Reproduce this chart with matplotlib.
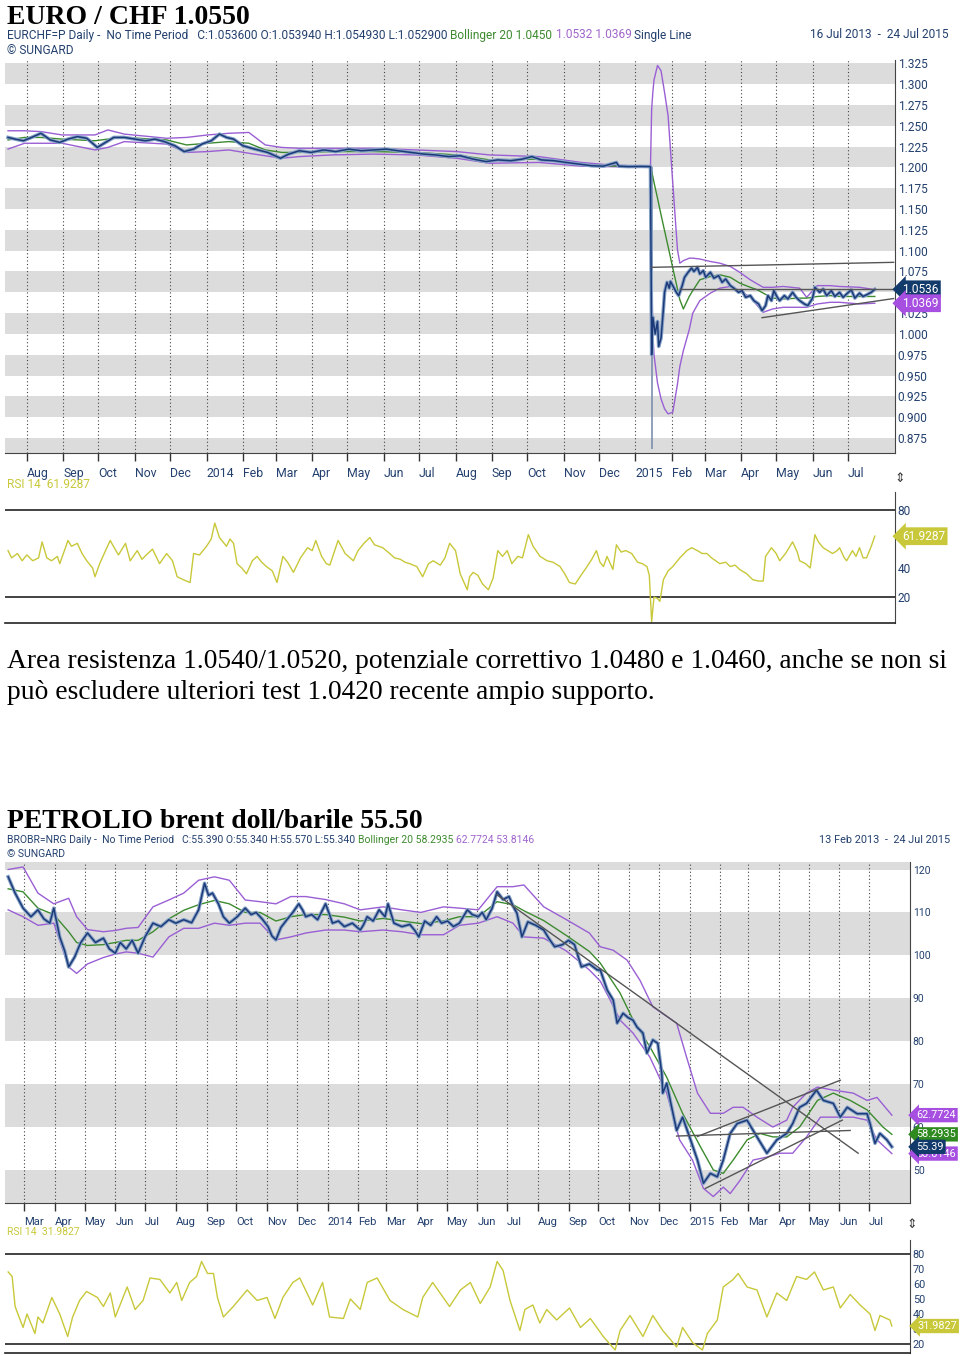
import matplotlib
matplotlib.use("Agg")
import matplotlib.pyplot as plt
import matplotlib.dates as mdates
from matplotlib.ticker import FuncFormatter
import pandas as pd

# ---------------- EUR/CHF, days counted from 16 Jul 2013 ----------------
eur_start = "2013-07-16"
eur_days = [0, 6, 13, 20, 28, 36, 44, 51, 59, 67,
            76, 83, 90, 99, 108, 117, 125, 133, 142, 150,
            158, 165, 173, 180, 186, 192, 200, 210, 221, 232,
            239, 248, 258, 269, 279, 290, 301, 311, 322, 332,
            343, 354, 364, 375, 385, 396, 407, 417, 428, 438,
            446, 454, 465, 475, 486, 497, 507, 518, 520, 528,
            539, 546, 547,
            548, 549, 551, 553, 554, 556, 558, 559, 561, 563,
            564, 566, 569, 571, 574, 576, 579, 582, 584, 587,
            589, 592, 594, 598, 601, 605, 608, 611, 615, 618,
            622, 625, 628, 632, 635, 639, 642, 645, 647, 650,
            652, 655, 657, 661, 664, 668, 671, 674, 678, 681,
            685, 687, 691, 694, 697, 701, 704, 708, 711, 714,
            718, 721, 725, 728, 731, 735, 738]
eur_close = [1.236, 1.234, 1.232, 1.236, 1.241, 1.233, 1.230, 1.234, 1.237, 1.235,
             1.224, 1.230, 1.236, 1.236, 1.234, 1.232, 1.234, 1.231, 1.226, 1.219,
             1.222, 1.228, 1.232, 1.240, 1.236, 1.234, 1.226, 1.222, 1.218, 1.211,
             1.216, 1.220, 1.218, 1.221, 1.219, 1.222, 1.220, 1.221, 1.222, 1.220,
             1.218, 1.216, 1.215, 1.213, 1.214, 1.210, 1.207, 1.209, 1.208, 1.210,
             1.213, 1.209, 1.208, 1.206, 1.204, 1.202, 1.2015, 1.206, 1.2015, 1.201,
             1.2012, 1.2010, 1.2010,
             0.975, 1.020, 1.000, 1.015, 0.985, 0.995, 1.030, 1.050, 1.062, 1.055,
             1.063, 1.058, 1.050, 1.046, 1.058, 1.068, 1.074, 1.079, 1.075, 1.080,
             1.072, 1.076, 1.068, 1.074, 1.067, 1.070, 1.062, 1.066, 1.058, 1.055,
             1.050, 1.052, 1.044, 1.046, 1.040, 1.036, 1.028, 1.034, 1.046, 1.040,
             1.052, 1.044, 1.040, 1.046, 1.042, 1.050, 1.044, 1.040, 1.036, 1.034,
             1.043, 1.056, 1.050, 1.054, 1.046, 1.052, 1.045, 1.050, 1.044, 1.048,
             1.053, 1.043, 1.049, 1.045, 1.047, 1.050, 1.0536]
eur_crash_day = 548
eur_crash_low = 0.862
eur_crash_high = 1.201

eur_band_days = [0, 14, 28, 46, 74, 85, 99, 135, 152, 170,
                 188, 205, 219, 233, 248, 276, 311, 347, 382, 410,
                 452, 488, 516, 547,
                 548, 549, 550, 553, 556, 559, 562, 566, 570, 572,
                 575, 580, 583, 589, 598, 606, 615, 623, 632, 638,
                 643, 651, 660, 674, 680, 689, 700, 708, 725, 738]
eur_upper = [1.244, 1.244, 1.243, 1.239, 1.239, 1.245, 1.240, 1.235, 1.236, 1.239,
             1.241, 1.242, 1.227, 1.224, 1.223, 1.223, 1.223, 1.221, 1.219, 1.215,
             1.213, 1.206, 1.2025, 1.2016,
             1.270, 1.290, 1.305, 1.3225, 1.316, 1.290, 1.262, 1.181, 1.101, 1.085,
             1.088, 1.091, 1.091, 1.090, 1.087, 1.085, 1.081, 1.074, 1.065, 1.060,
             1.056, 1.056, 1.057, 1.055, 1.044, 1.058, 1.058, 1.057, 1.056, 1.0532]
eur_mid = [1.233, 1.236, 1.236, 1.234, 1.232, 1.234, 1.236, 1.233, 1.227, 1.229,
           1.231, 1.229, 1.221, 1.218, 1.218, 1.219, 1.219, 1.218, 1.215, 1.209,
           1.210, 1.204, 1.2015, 1.201,
           1.195, 1.189, 1.182, 1.163, 1.143, 1.124, 1.105, 1.079, 1.054, 1.041,
           1.030, 1.045, 1.052, 1.065, 1.069, 1.071, 1.068, 1.061, 1.056, 1.053,
           1.049, 1.043, 1.042, 1.043, 1.043, 1.045, 1.046, 1.045, 1.045, 1.045]
eur_lower = [1.222, 1.229, 1.229, 1.229, 1.221, 1.224, 1.231, 1.228, 1.218, 1.219,
             1.221, 1.217, 1.214, 1.211, 1.213, 1.215, 1.216, 1.215, 1.211, 1.205,
             1.206, 1.2015, 1.2008, 1.2006,
             1.080, 1.001, 0.975, 0.941, 0.922, 0.910, 0.904, 0.906, 0.940, 0.961,
             0.980, 1.005, 1.025, 1.040, 1.049, 1.055, 1.057, 1.052, 1.044, 1.034,
             1.026, 1.030, 1.032, 1.032, 1.032, 1.036, 1.038, 1.038, 1.036, 1.0369]

# trend lines: (day0, value0, day1, value1)
eur_lines = [(548, 1.080, 754, 1.086), (572, 1.0536, 754, 1.0536), (642, 1.0195, 754, 1.0425)]
eur_ticks = [1.325, 1.300, 1.275, 1.250, 1.225, 1.200, 1.175, 1.150, 1.125, 1.100,
             1.075, 1.050, 1.025, 1.000, 0.975, 0.950, 0.925, 0.900, 0.875]
eur_tags = [("1.0536", 1.0536, "#123a6b"), ("1.0369", 1.0369, "#a64fe0")]

eur_rsi_days = [0, 3, 8, 12, 16, 21, 26, 29, 33, 37,
                42, 44, 48, 51, 54, 59, 63, 67, 72, 74,
                78, 83, 87, 89, 94, 100, 104, 110, 114, 119,
                123, 129, 135, 140, 144, 149, 155, 158, 163, 169,
                173, 176, 180, 186, 189, 192, 195, 199, 203, 208,
                212, 216, 220, 225, 229, 234, 238, 243, 249, 255,
                259, 262, 267, 271, 274, 281, 287, 294, 298, 303,
                308, 312, 319, 325, 329, 334, 338, 342, 348, 353,
                358, 362, 368, 372, 376, 381, 385, 391, 393, 396,
                400, 404, 409, 413, 417, 421, 425, 429, 434, 438,
                443, 447, 453, 459, 464, 470, 474, 478, 483, 487,
                493, 497, 501, 504, 507, 510, 515, 518, 522, 526,
                531, 536, 540, 544, 546, 548, 550, 553, 555, 558,
                562, 566, 572, 578, 582, 587, 591, 595, 599, 606,
                611, 615, 619, 623, 629, 634, 639, 643, 645, 650,
                654, 657, 662, 668, 672, 674, 679, 683, 687, 690,
                694, 698, 702, 706, 708, 712, 714, 719, 722, 725,
                728, 731, 735, 738]
eur_rsi = [52, 47, 50, 45, 49, 45, 47, 58, 47, 45,
           48, 43, 52, 59, 55, 57, 50, 45, 40, 34,
           43, 52, 59, 56, 49, 57, 45, 52, 46, 50,
           53, 43, 50, 45, 34, 32, 30, 50, 49, 55,
           60, 71, 61, 55, 60, 57, 43, 40, 36, 45,
           48, 44, 41, 38, 30, 48, 44, 37, 47, 54,
           52, 59, 48, 43, 42, 59, 50, 45, 52, 57,
           61, 56, 54, 50, 47, 46, 44, 43, 41, 34,
           43, 45, 42, 47, 57, 52, 36, 25, 34, 37,
           35, 29, 25, 33, 52, 48, 52, 43, 48, 47,
           63, 55, 48, 45, 44, 41, 36, 30, 29, 34,
           41, 46, 52, 44, 41, 48, 39, 56, 51, 52,
           50, 44, 43, 41, 35, 3, 20, 19, 17, 32,
           38, 41, 47, 52, 54, 52, 50, 50, 47, 43,
           44, 41, 42, 39, 36, 32, 31, 31, 48, 54,
           50, 45, 50, 58, 51, 45, 43, 40, 63, 58,
           54, 52, 50, 52, 54, 47, 45, 52, 48, 54,
           47, 47, 55, 62]
eur_rsi_last = "61.9287"

# ---------------- Brent, days counted from 13 Feb 2013 ----------------
oil_start = "2013-02-13"
oil_days = [0, 7, 15, 23, 30, 36, 42, 46, 52, 57,
            61, 67, 73, 80, 88, 96, 102, 108, 113, 119,
            125, 131, 138, 146, 154, 162, 169, 177, 185, 192,
            198, 202, 206, 212, 217, 223, 231, 239, 245, 250,
            256, 262, 266, 270, 275, 281, 287, 293, 297, 300,
            306, 312, 320, 324, 327, 333, 339, 347, 355, 358,
            362, 368, 374, 380, 383, 389, 397, 405, 410, 414,
            420, 426, 432, 437, 443, 449, 455, 463, 468, 474,
            478, 482, 488, 493, 499, 505, 509, 513, 518, 524,
            532, 540, 545, 551, 559, 565, 571, 578, 586, 594,
            597, 604, 610, 614, 620, 625, 630, 634, 640, 644,
            650, 655, 659, 660, 664, 669, 674, 680, 687, 695,
            701, 708, 715, 721, 728, 735, 745, 755, 765, 775,
            785, 791, 798, 805, 815, 822, 832, 839, 846, 856,
            866, 869, 874, 879, 886, 891]
oil_close = [118.3, 114.5, 111, 109, 110.6, 108.5, 107.5, 111, 104.3, 101,
             97.3, 99.6, 102.9, 105.2, 103, 104, 101.5, 100.5, 103, 101.5,
             103.5, 100.5, 104.3, 107.5, 106.7, 108.3, 107.5, 108.3, 107.6, 110.6,
             116.8, 114, 114.5, 112, 109, 107.5, 109, 111, 109.5, 110,
             108.5, 106.7, 104.5, 103.6, 106.5, 108.3, 110, 112, 110.5, 109,
             109.5, 108.3, 112, 109.5, 107.5, 108, 106.7, 107.5, 105.9, 107,
             109, 108, 110.6, 109, 112, 107.5, 106.7, 107.2, 105.8, 104.3,
             108, 107, 109, 107.5, 108, 106.7, 107.5, 110.6, 109.5, 109,
             110, 108.3, 111, 114.8, 113, 113.7, 111.5, 109.8, 104.3, 107.8,
             107, 105.9, 104, 102, 102.5, 103.5, 102.5, 97.3, 98, 96.6,
             96.6, 91.9, 89.6, 84.2, 86.5, 85.5, 84.9, 83.3, 81.9, 77.2,
             80.3, 79.5, 72.5, 67.9, 70.2, 64.6, 59.2, 62.3, 57.7, 52.3,
             46.9, 49.2, 48.4, 52.3, 58.5, 60.8, 61.6, 57.7, 53.9, 57.0,
             58.5, 60.8, 64.6, 65.5, 68.6, 66.2, 65.5, 62.3, 64.6, 63.1,
             63.1, 60.8, 56.2, 58.5, 57.0, 55.39]

oil_up_days = [0, 15, 30, 46, 61, 69, 80, 96, 108, 119,
               131, 146, 162, 177, 192, 208, 223, 239, 254, 270,
               285, 300, 320, 339, 355, 378, 397, 416, 439, 455,
               474, 493, 509, 520, 540, 563, 586,
               597, 610, 624, 637, 650, 674, 684, 695, 708, 721,
               731, 741, 755, 771, 785, 791, 805, 816, 832, 852,
               866, 876, 891]
oil_upper = [120, 120.6, 114.5, 112, 113.3, 109, 106, 105.5, 105.8, 106.3,
             106.5, 111.3, 112.9, 114.5, 117.5, 118.3, 117.5, 112.9, 112.5, 112,
             113.7, 113.7, 113, 112, 110.6, 111.3, 110.6, 110, 111.3, 111,
             110.6, 116, 116, 116.4, 111.3, 108.3, 105.2,
             102, 101.2, 98.9, 94.2, 88, 84.2, 76.3, 67.9, 63.2, 63.2,
             64.6, 64.6, 62.3, 60, 61.6, 64.6, 67.9, 69.3, 68.6, 67.9,
             66.2, 66.9, 62.77]
oil_lo_days = [0, 15, 30, 46, 61, 69, 80, 96, 108, 119,
               131, 146, 162, 177, 192, 208, 223, 239, 254, 270,
               285, 300, 320, 339, 355, 378, 397, 416, 439, 455,
               474, 493, 509, 520, 540, 563, 586,
               597, 607, 617, 630, 647, 664, 677, 690, 701, 711,
               721, 728, 738, 751, 765, 778, 791, 805, 819, 832,
               852, 866, 876, 891]
oil_lower = [110.6, 109, 107, 107.5, 97.3, 95.8, 98, 99.5, 100.3, 100.8,
             100.5, 99.6, 104.3, 106.3, 106.3, 107.5, 107, 107.5, 107.5, 103.6,
             104.3, 105.2, 105.9, 105.9, 105.5, 105.9, 105.5, 104.8, 104.8, 107,
             107.5, 109, 107.5, 104.3, 104, 101, 96.6,
             94, 89.6, 84.9, 81.9, 76.3, 67.9, 57, 52.3, 45.7, 43.8,
             46, 44.5, 47.6, 52.3, 53, 53.9, 53.9, 57.7, 62.3, 62.3,
             62.3, 61.6, 57, 53.81]
oil_mid_days = [0, 15, 30, 46, 61, 69, 80, 96, 108, 119,
                131, 146, 162, 177, 192, 208, 223, 239, 254, 270,
                285, 300, 320, 339, 355, 378, 397, 416, 439, 455,
                474, 493, 509, 520, 540, 563, 586,
                597, 617, 630, 647, 664, 680, 698, 711, 721, 731,
                745, 758, 771, 785, 798, 816, 832, 849, 866, 882, 891]
oil_mid = [115.5, 114.8, 111, 109.5, 105.5, 103, 102.3, 102.5, 103, 103.5,
           103.5, 105.5, 108.5, 110.5, 111.8, 112.8, 112, 110, 110, 108,
           109, 109.5, 109.5, 108.9, 108, 108.6, 108, 107.4, 108, 109,
           109, 112.5, 111.8, 110.4, 108.1, 104.6, 100.9,
           98.2, 91.2, 85, 78.7, 71.6, 63.2, 55.4, 50, 49.2, 52.3,
           57, 58.5, 57.7, 57.7, 60, 66.2, 67.9, 66.2, 64, 60, 58.29]

oil_lines = [(493, 114.1, 857, 53.9), (674, 57.9, 849, 59.2),
             (695, 57.8, 839, 70.9), (703, 45.7, 841, 61.6)]
oil_ticks = [120, 110, 100, 90, 80, 70, 60, 50]
oil_tags = [("62.7724", 62.7724, "#a64fe0"), ("58.2935", 58.2935, "#2f8a1f"),
            ("53.8146", 53.8146, "#a64fe0"), ("55.39", 55.39, "#123a6b")]

oil_rsi_days = [0, 4, 7, 15, 19, 27, 30, 35, 44, 52,
                60, 65, 72, 79, 90, 96, 103, 108, 120, 128,
                136, 143, 153, 163, 170, 175, 183, 190, 195, 201,
                207, 211, 217, 227, 241, 251, 261, 269, 277, 287,
                294, 307, 317, 324, 338, 345, 355, 362, 372, 385,
                398, 413, 418, 428, 445, 456, 466, 476, 486, 493,
                499, 506, 516, 521, 529, 536, 543, 553, 566, 577,
                587, 600, 612, 617, 627, 640, 650, 660, 674, 680,
                690, 700, 705, 715, 721, 731, 736, 745, 755, 765,
                775, 785, 795, 805, 813, 822, 832, 839, 849, 859,
                869, 874, 879, 889, 891]
oil_rsi = [68, 65, 45, 31, 40, 27, 38, 34, 51, 40,
           25, 38, 49, 55, 51, 45, 54, 38, 58, 43,
           49, 64, 63, 54, 61, 49, 61, 65, 75, 67,
           67, 51, 38, 45, 56, 49, 51, 37, 51, 61,
           64, 46, 61, 38, 37, 50, 43, 61, 64, 49,
           43, 38, 51, 61, 45, 56, 61, 47, 58, 75,
           69, 49, 29, 43, 46, 34, 43, 36, 44, 31,
           37, 25, 16, 29, 39, 25, 39, 29, 18, 31,
           21, 16, 27, 36, 58, 63, 67, 58, 56, 38,
           54, 49, 65, 63, 68, 56, 58, 44, 53, 46,
           40, 29, 39, 36, 32]
oil_rsi_last = "31.9827"

# ---------------- drawing ----------------
W, H = 960, 1356
SANS = ["Roboto", "DejaVu Sans"]
SERIF = ["Liberation Serif", "DejaVu Serif"]
FS_TOP = 8.6   # the two screenshots were pasted at slightly different scales
FS_BOT = 7.5
NAVY_TXT = "#23406e"
PRICE = "#1c3a78"
PRICE_LT = "#86a2c8"
GREEN = "#3d8b2f"
PURPLE = "#9a5fd4"
RSI_C = "#c8c83a"
BAND = "#dcdcdc"

fig = plt.figure(figsize=(W / 100, H / 100), dpi=100)
bg = fig.add_axes([0, 0, 1, 1], zorder=-1)
bg.axis("off")
bg.set_xlim(0, W)
bg.set_ylim(H, 0)


def px_axes(l, t, r, b):
    return fig.add_axes([l / W, 1 - b / H, (r - l) / W, (b - t) / H])


def to_dates(start, days):
    return pd.Timestamp(start) + pd.to_timedelta(days, unit="D")


def month_fmt(x, pos):
    d = mdates.num2date(x)
    return str(d.year) if d.month == 1 else d.strftime("%b")


def chain(x, y, parts, size):
    t = bg.text(x, y, parts[0][0], color=parts[0][1], fontsize=size, family=SANS,
                va="center", ha="left")
    for s, c in parts[1:]:
        t = bg.annotate(s, xy=(1, 0.5), xycoords=t, color=c, fontsize=size,
                        family=SANS, va="center", ha="left")
    return t


def tag(ax, text, y, color, fs, dx=7, tcolor="white"):
    ax.annotate(text, xy=(1, y), xycoords=ax.get_yaxis_transform(),
                xytext=(dx, 0), textcoords="offset pixels", fontsize=fs,
                color=tcolor, va="center", ha="left", family=SANS,
                annotation_clip=False, zorder=10,
                bbox=dict(boxstyle="larrow,pad=0.2", fc=color, ec="none"))


def style_price_axes(ax, start, xl, months, yl, ticks, fmt, bands, fs, xfs):
    ax.set_facecolor("white")
    for lo, hi in bands:
        ax.axhspan(lo, hi, color=BAND, lw=0, zorder=0)
    ax.set_xlim(to_dates(start, [xl[0]])[0], to_dates(start, [xl[1]])[0])
    ax.set_ylim(*yl)
    ax.set_xticks(months)
    ax.xaxis.set_major_formatter(FuncFormatter(month_fmt))
    for lab in ax.get_xticklabels():
        lab.set_ha("left")
        lab.set_family(SANS)
    ax.tick_params(axis="x", direction="out", length=6, width=1, color="#333333",
                   labelsize=xfs, labelcolor=NAVY_TXT, pad=4)
    ax.grid(axis="x", color="#444444", lw=0.8, linestyle=(0, (1, 2.2)))
    ax.yaxis.tick_right()
    ax.set_yticks(ticks)
    ax.set_yticklabels([fmt.format(v) for v in ticks], family=SANS)
    ax.tick_params(axis="y", length=0, labelsize=fs, labelcolor=NAVY_TXT, pad=2)
    for s in ("top", "left"):
        ax.spines[s].set_visible(False)
    ax.spines["right"].set_color("#444444")
    ax.spines["bottom"].set_color("#444444")


def style_rsi_axes(ax, start, xl, yl, ticks, last, fs):
    ax.set_xlim(to_dates(start, [xl[0]])[0], to_dates(start, [xl[1]])[0])
    ax.set_ylim(*yl)
    ax.set_xticks([])
    ax.yaxis.tick_right()
    ax.set_yticks(ticks)
    ax.set_yticklabels([str(v) for v in ticks], family=SANS)
    ax.tick_params(axis="y", length=0, labelsize=fs, labelcolor=NAVY_TXT, pad=2)
    for s in ("top", "left"):
        ax.spines[s].set_visible(False)
    ax.spines["right"].set_color("#444444")
    ax.spines["bottom"].set_color("#222222")
    ax.spines["bottom"].set_linewidth(1.2)
    ax.axhline(80, color="#222222", lw=1.2)
    ax.axhline(20, color="#222222", lw=1.2)
    tag(ax, last, float(last), RSI_C, fs)


# ---- top block: EUR/CHF ----
bg.text(7, 24, "EURO / CHF 1.0550", family=SERIF, fontweight="bold", fontsize=20,
        va="baseline", ha="left", color="black")
chain(7, 35, [("EURCHF=P Daily -  No Time Period   C:1.053600 O:1.053940 H:1.054930 L:1.052900 ", NAVY_TXT),
              ("Bollinger 20 1.0450 ", GREEN), ("1.0532 1.0369 ", "#a066cc"),
              ("Single Line", NAVY_TXT)], FS_TOP)
bg.text(948, 35, "16 Jul 2013  -  24 Jul 2015", family=SANS, fontsize=FS_TOP, color=NAVY_TXT,
        va="center", ha="right")
bg.text(7, 51, "© SUNGARD", family=SANS, fontsize=FS_TOP, color=NAVY_TXT, va="center")

ax1 = px_axes(5, 60, 895, 453)
style_price_axes(ax1, eur_start, (-2.6, 755.2),
                 pd.date_range("2013-08-01", "2015-07-01", freq="MS"),
                 (0.857, 1.329), eur_ticks, "{:.3f}",
                 [(0.850 + 0.05 * k, 0.875 + 0.05 * k) for k in range(10)],
                 FS_TOP, FS_TOP + 0.2)
ed = to_dates(eur_start, eur_days)
bd = to_dates(eur_start, eur_band_days)
ax1.vlines(to_dates(eur_start, [eur_crash_day]), eur_crash_low, eur_crash_high,
           color="#7d90b0", lw=1.2, zorder=3)
ax1.plot(bd, eur_upper, color=PURPLE, lw=1.0, zorder=3)
ax1.plot(bd, eur_lower, color=PURPLE, lw=1.0, zorder=3)
ax1.plot(bd, eur_mid, color=GREEN, lw=1.0, zorder=4)
ax1.plot(ed, eur_close, color=PRICE_LT, lw=2.6, zorder=4)
ax1.plot(ed, eur_close, color=PRICE, lw=1.1, zorder=5)
for d0, v0, d1, v1 in eur_lines:
    ax1.plot(to_dates(eur_start, [d0, d1]), [v0, v1], color="#555555", lw=1.0, zorder=6)
for txt, v, c in eur_tags:
    tag(ax1, txt, v, c, FS_TOP)

bg.text(7, 485, "RSI 14  61.9287", family=SANS, fontsize=FS_TOP, color=RSI_C, va="center")
bg.text(900, 478, "⇕", fontsize=9, color="#333333", va="center", ha="center")
ax2 = px_axes(5, 492, 895, 623)
style_rsi_axes(ax2, eur_start, (-2.6, 755.2), (2.1, 92.4), [80, 60, 40, 20],
               eur_rsi_last, FS_TOP)
ax2.plot(to_dates(eur_start, eur_rsi_days), eur_rsi, color=RSI_C, lw=1.0)

# ---- comment text ----
bg.text(7, 668, "Area resistenza 1.0540/1.0520, potenziale correttivo 1.0480 e 1.0460, anche se non si",
        family=SERIF, fontsize=19.8, va="baseline", color="black")
bg.text(7, 699, "può escludere ulteriori test 1.0420 recente ampio supporto.",
        family=SERIF, fontsize=19.8, va="baseline", color="black")

# ---- bottom block: Brent ----
bg.text(7, 828, "PETROLIO brent doll/barile 55.50", family=SERIF, fontweight="bold",
        fontsize=20, va="baseline", ha="left", color="black")
chain(7, 840, [("BROBR=NRG Daily -  No Time Period   C:55.390 O:55.340 H:55.570 L:55.340 ", NAVY_TXT),
               ("Bollinger 20 58.2935 ", GREEN), ("62.7724 53.8146", "#a066cc")], FS_BOT)
bg.text(950, 840, "13 Feb 2013  -  24 Jul 2015", family=SANS, fontsize=FS_BOT + 0.3,
        color=NAVY_TXT, va="center", ha="right")
bg.text(7, 854, "© SUNGARD", family=SANS, fontsize=FS_BOT, color=NAVY_TXT, va="center")

ax3 = px_axes(5, 862, 910, 1203)
style_price_axes(ax3, oil_start, (-3.2, 909.3),
                 pd.date_range("2013-03-01", "2015-07-01", freq="MS"),
                 (42.3, 121.75), oil_ticks, "{:d}",
                 [(40 + 20 * k, 50 + 20 * k) for k in range(5)],
                 FS_BOT, FS_BOT + 0.6)
ax3.plot(to_dates(oil_start, oil_up_days), oil_upper, color=PURPLE, lw=1.0, zorder=3)
ax3.plot(to_dates(oil_start, oil_lo_days), oil_lower, color=PURPLE, lw=1.0, zorder=3)
ax3.plot(to_dates(oil_start, oil_mid_days), oil_mid, color=GREEN, lw=1.0, zorder=4)
od = to_dates(oil_start, oil_days)
ax3.plot(od, oil_close, color=PRICE_LT, lw=2.6, zorder=4)
ax3.plot(od, oil_close, color=PRICE, lw=1.1, zorder=5)
for d0, v0, d1, v1 in oil_lines:
    ax3.plot(to_dates(oil_start, [d0, d1]), [v0, v1], color="#555555", lw=1.0, zorder=6)
for txt, v, c in oil_tags:
    tag(ax3, txt, v, c, FS_BOT + 0.3, dx=6)

bg.text(7, 1232, "RSI 14  31.9827", family=SANS, fontsize=FS_BOT, color=RSI_C, va="center")
bg.text(912, 1225, "⇕", fontsize=9, color="#333333", va="center", ha="center")
ax4 = px_axes(5, 1240, 910, 1353)
style_rsi_axes(ax4, oil_start, (-3.2, 909.3), (14, 89.3),
               [80, 70, 60, 50, 40, 30, 20], oil_rsi_last, FS_BOT + 0.3)
ax4.plot(to_dates(oil_start, oil_rsi_days), oil_rsi, color=RSI_C, lw=1.0)

fig.savefig("out.png", dpi=100)
